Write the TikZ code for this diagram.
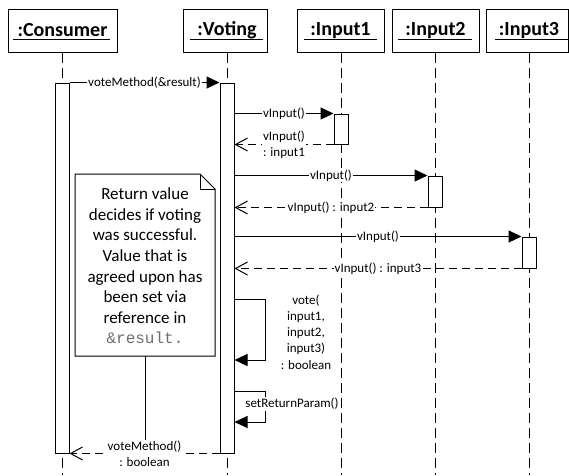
\documentclass[tikz,border=0pt]{standalone}
\usepackage{fontspec}
\setmainfont{Carlito}
\newfontfamily\codefont{Liberation Mono}
\usetikzlibrary{arrows.meta}
\definecolor{codegray}{RGB}{110,110,110}
\tikzset{
  headbox/.style={draw, line width=1pt, minimum height=43pt, inner sep=0pt, font=\fontsize{20}{24}\selectfont\bfseries},
  lifeline/.style={line width=1pt, dash pattern=on 10pt off 5pt},
  actbar/.style={draw, fill=white, line width=1pt, minimum width=14pt, inner sep=0pt},
  callmsg/.style={line width=1pt, -{Triangle[length=13pt,width=12pt]}},
  retmsg/.style={line width=1pt, dash pattern=on 8pt off 5pt, -{Straight Barb[length=12pt,width=13pt]}},
  msglabel/.style={fill=white, inner sep=1pt, font=\fontsize{13}{16.25}\selectfont, align=center},
  notetextstyle/.style={align=center, inner sep=0pt, font=\fontsize{17}{20.6}\selectfont},
}
\begin{document}
\begin{tikzpicture}[x=1pt,y=-1pt]
\useasboundingbox (0,0) rectangle (569,475);
% heads
\node[headbox, minimum width=109pt] (cons) at (62.5,30.5) {\raisebox{-1pt}{:Consumer}};
\node[headbox, minimum width=84pt] (vot) at (225,30.5) {\hspace*{4pt}\raisebox{-1pt}{:Voting}};
\node[headbox, minimum width=87pt] (in1) at (340.5,30.5) {\raisebox{-1pt}{:Input1}};
\node[headbox, minimum width=87pt] (in2) at (435.5,30.5) {\raisebox{-1pt}{:Input2}};
\node[headbox, minimum width=82pt] (in3) at (527,30.5) {\hspace*{4pt}\raisebox{-1pt}{:Input3}};
% underlines
\draw[line width=1pt] (13,39) -- (110,39);
\draw[line width=1pt] (190,39) -- (263,39);
\draw[line width=1pt] (304,39) -- (377,39);
\draw[line width=1pt] (398,39) -- (472,39);
\draw[line width=1pt] (495,39) -- (568,39);
% lifelines
\coordinate (consend) at (62,475);
\coordinate (votend) at (227,475);
\coordinate (in1end) at (341,475);
\coordinate (in2end) at (435,475);
\coordinate (in3end) at (529,475);
\draw[lifeline] (cons.south -| consend) -- (consend);
\draw[lifeline] (vot.south -| votend) -- (votend);
\draw[lifeline] (in1.south -| in1end) -- (in1end);
\draw[lifeline] (in2.south -| in2end) -- (in2end);
\draw[lifeline] (in3.south -| in3end) -- (in3end);
% activation bars
\node[actbar, minimum height=370pt] (cact) at (62,268) {};
\node[actbar, minimum height=370pt] (vact) at (227,268) {};
\node[actbar, minimum height=30pt] (i1act) at (341,129) {};
\node[actbar, minimum height=31pt] (i2act) at (435,191.5) {};
\node[actbar, minimum height=31pt] (i3act) at (529,252.5) {};
% note
\draw[line width=1pt, fill=white] (75,174) -- (200,174) -- (215,189) -- (215,356) -- (75,356) -- cycle;
\draw[line width=1pt] (200,174) -- (200,189) -- (215,189);
\node[notetextstyle] (notetext) at (145,266) {Return value\\decides if voting\\was successful.\\Value that is\\agreed upon has\\been set via\\reference in\\{\codefont\fontsize{16}{20.6}\selectfont\color{codegray}\&result.}};
\coordinate (notebot) at (145,356);
\coordinate (noteend) at (145,453);
\draw[line width=1pt] (notebot) -- (noteend);
% messages
\draw[callmsg] (cact.north east) -- node[msglabel]{voteMethod(\&result)} (vact.north west);
\draw[callmsg] (vact.east |- i1act.north) -- node[msglabel]{vInput()} (i1act.north west);
\draw[retmsg] (i1act.south west) -- node[msglabel]{vInput()\\: input1} (vact.east |- i1act.south);
\draw[callmsg] (vact.east |- i2act.north) -- node[msglabel]{vInput()} (i2act.north west);
\draw[retmsg] (i2act.south west) -- node[msglabel]{vInput() : input2} (vact.east |- i2act.south);
\draw[callmsg] (vact.east |- i3act.north) -- node[msglabel]{vInput()} (i3act.north west);
\draw[retmsg] (i3act.south west) -- node[msglabel]{vInput() : input3} (vact.east |- i3act.south);
% self calls
\coordinate (s1a) at (vact.east |- 0,299);
\coordinate (s1b) at (vact.east |- 0,360);
\draw[callmsg] (s1a) -- (265,299) -- (265,360) -- (s1b);
\node[msglabel, fill=none] (votelbl) at (306,332) {vote(\\input1,\\input2,\\input3)\\: boolean};
\coordinate (s2a) at (vact.east |- 0,391);
\coordinate (s2b) at (vact.east |- 0,422);
\draw[callmsg] (s2a) -- (265,391) -- (265,422) -- (s2b);
\node[msglabel] (setlbl) at (292,404) {setReturnParam()};
% return
\draw[retmsg] (vact.south west) -- node[msglabel]{voteMethod()\\: boolean} (cact.south east);
\end{tikzpicture}
\end{document}
